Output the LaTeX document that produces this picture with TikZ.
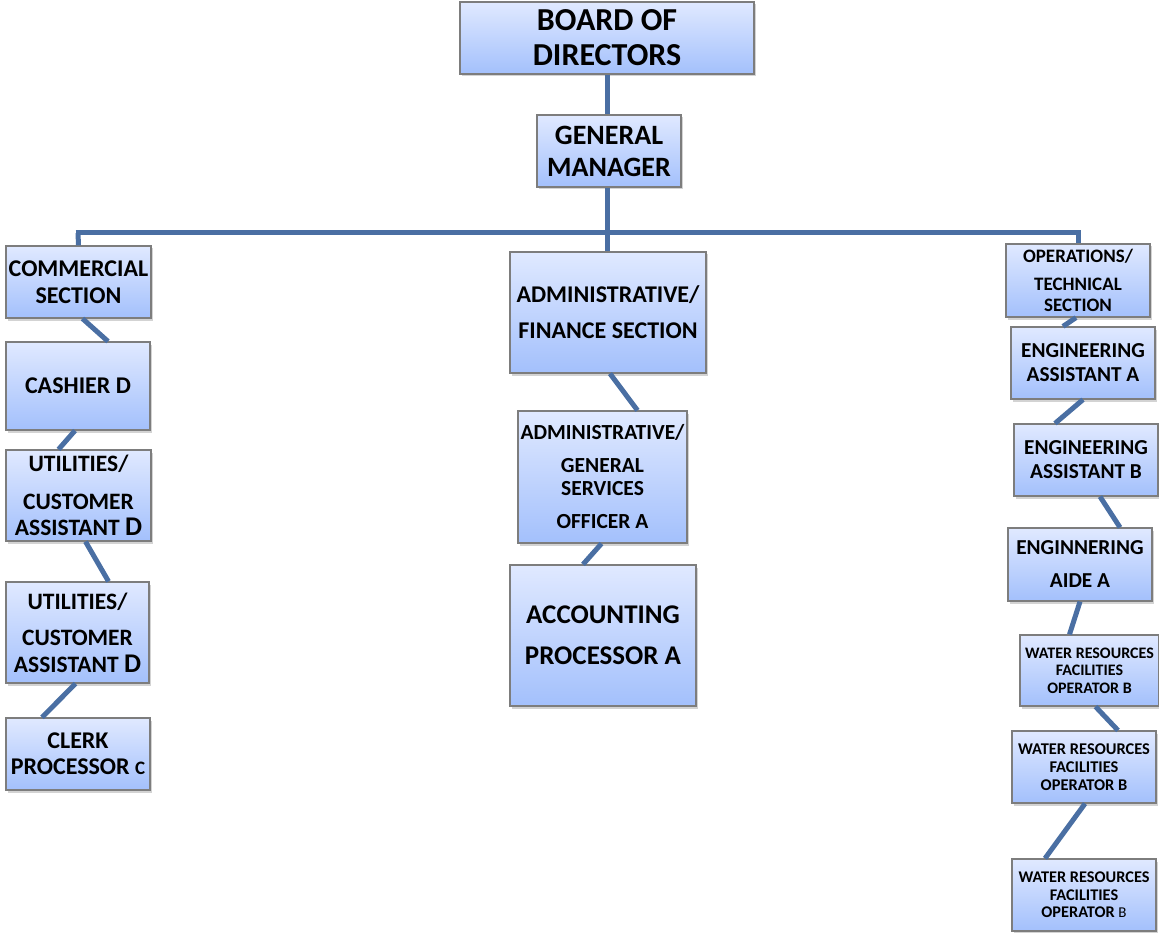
\documentclass[tikz,border=0pt]{standalone}
\usepackage{fontspec}
\setmainfont{Carlito}
\usetikzlibrary{shadows}
\definecolor{lineblue}{RGB}{74,111,163}
\definecolor{boxtop}{RGB}{224,233,255}
\definecolor{boxbot}{RGB}{163,192,252}
\definecolor{boxedge}{RGB}{125,125,125}
\tikzset{
  orgbox/.style={draw=boxedge, line width=1.2pt, top color=boxtop, bottom color=boxbot,
    drop shadow={shadow xshift=1.5pt, shadow yshift=-2.5pt, opacity=0.35},
    align=center, inner sep=0pt, font=\bfseries},
  link/.style={draw=lineblue, line width=5pt},
}
\newcommand{\fs}[2]{\fontsize{#1}{#2}\selectfont}
\begin{document}
\begin{tikzpicture}[x=1pt,y=-1pt]
\useasboundingbox (0,0) rectangle (1159,933);
% boxes
\node[orgbox, minimum width=294pt, minimum height=72pt, font=\bfseries\fs{32}{35}] (board) at (607,38) {BOARD OF\\DIRECTORS};
\node[orgbox, minimum width=144pt, minimum height=72pt, font=\bfseries\fs{28}{32}] (gm) at (609,151) {GENERAL\\MANAGER};

\node[orgbox, minimum width=145pt, minimum height=72pt, font=\bfseries\fs{24}{27}] (comm) at (78.5,282) {COMMERCIAL\\SECTION};
\node[orgbox, minimum width=144pt, minimum height=88pt, font=\bfseries\fs{24}{27}] (cash) at (78,386) {CASHIER D};
\node[orgbox, minimum width=145pt, minimum height=91pt, font=\bfseries\fs{23.5}{26}] (util1) at (78.5,495.5) {UTILITIES/\\[12pt]CUSTOMER\\ASSISTANT {\fs{27}{26}D}};
\node[orgbox, minimum width=143pt, minimum height=101pt, font=\bfseries\fs{23.5}{27}] (util2) at (77.5,632.5) {UTILITIES/\\[9pt]CUSTOMER\\ASSISTANT {\fs{27}{27}D}};
\node[orgbox, minimum width=144pt, minimum height=72pt, font=\bfseries\fs{24}{26}] (clerk) at (78,754) {CLERK\\PROCESSOR {\fs{19}{26}C}};

\node[orgbox, minimum width=196pt, minimum height=121pt, font=\bfseries\fs{24}{36}] (adfin) at (608,312.5) {ADMINISTRATIVE/\\FINANCE SECTION};
\node[orgbox, minimum width=169pt, minimum height=132pt, font=\bfseries\fs{21.5}{23}] (ags) at (602.5,477) {ADMINISTRATIVE/\\[10pt]GENERAL\\SERVICES\\[10pt]OFFICER A};
\node[orgbox, minimum width=186pt, minimum height=141pt, font=\bfseries\fs{27}{41}] (acc) at (603,635.5) {ACCOUNTING\\PROCESSOR A};

\node[orgbox, minimum width=144pt, minimum height=73pt, font=\bfseries\fs{19}{21}] (ops) at (1078,280.5) {OPERATIONS/\\[7pt]TECHNICAL\\SECTION};
\node[orgbox, minimum width=144pt, minimum height=72pt, font=\bfseries\fs{21.3}{24}] (enga) at (1083,363) {ENGINEERING\\ASSISTANT A};
\node[orgbox, minimum width=144pt, minimum height=72pt, font=\bfseries\fs{21.3}{24}] (engb) at (1086,460) {ENGINEERING\\ASSISTANT B};
\node[orgbox, minimum width=144pt, minimum height=73pt, font=\bfseries\fs{21.3}{33}] (aide) at (1080,564.5) {ENGINNERING\\AIDE A};
\node[orgbox, minimum width=139pt, minimum height=71pt, font=\bfseries\fs{16}{17.5}] (wr1) at (1089.5,670.5) {WATER RESOURCES\\FACILITIES\\OPERATOR B};
\node[orgbox, minimum width=144pt, minimum height=72pt, font=\bfseries\fs{16.4}{18}] (wr2) at (1084,767) {WATER RESOURCES\\FACILITIES\\OPERATOR B};
\node[orgbox, minimum width=144pt, minimum height=72pt, font=\bfseries\fs{16.3}{17.5}] (wr3) at (1084,895) {WATER RESOURCES\\FACILITIES\\OPERATOR {\fs{15}{17.5}\mdseries B}};

% connectors
\coordinate (jl) at (78,233);
\coordinate (jm) at (607,233);
\coordinate (jr) at (1078,233);
\begin{scope}[link]
\draw ([xshift=-2pt]gm.north |- board.south) -- ([xshift=-2pt]gm.north);
\draw ([xshift=-2pt]gm.south) -- (jm) -- ([xshift=-1pt]adfin.north);
\draw ([xshift=-2.5pt]jl) -- ([xshift=2.5pt]jr);
\draw (jl) -- (comm.north);
\draw (jr) -- (ops.north);
\draw ([xshift=4pt]comm.south) -- ([xshift=30pt]cash.north);
\draw ([xshift=-3pt]cash.south) -- ([xshift=-20pt]util1.north);
\draw ([xshift=7pt]util1.south) -- ([xshift=31pt]util2.north);
\draw ([xshift=-2pt]util2.south) -- ([xshift=-36pt]clerk.north);
\draw ([xshift=2pt]adfin.south) -- ([xshift=35pt]ags.north);
\draw ([xshift=-1pt]ags.south) -- ([xshift=-20pt]acc.north);
\draw ([xshift=-2pt]ops.south) -- ([xshift=-20pt]enga.north);
\draw ([xshift=0pt]enga.south) -- ([xshift=-31pt]engb.north);
\draw ([xshift=14pt]engb.south) -- ([xshift=40pt]aide.north);
\draw ([xshift=0pt]aide.south) -- ([xshift=-20pt]wr1.north);
\draw ([xshift=6pt]wr1.south) -- ([xshift=34pt]wr2.north);
\draw ([xshift=1pt]wr2.south) -- ([xshift=-39pt]wr3.north);
\end{scope}
\end{tikzpicture}
\end{document}
